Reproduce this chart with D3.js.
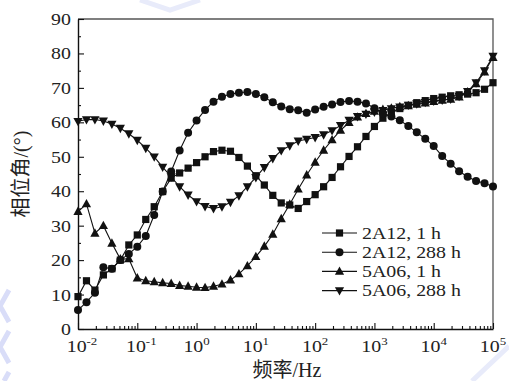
<!DOCTYPE html>
<html>
<head>
<meta charset="utf-8">
<script src="https://cdn.jsdelivr.net/npm/d3@7"></script>
<style>
  html, body { margin: 0; padding: 0; background: #fff; }
  svg { display: block; }
</style>
</head>
<body>
<svg id="chart" width="509" height="381"></svg>
<script>
// Measurement frequencies (Hz), 7 points per decade from 10^-2 to 10^5
const freq = [
  0.01, 0.0139, 0.0193, 0.0268, 0.0373, 0.0518, 0.0720,
  0.1, 0.139, 0.193, 0.268, 0.373, 0.518, 0.720,
  1, 1.39, 1.93, 2.68, 3.73, 5.18, 7.20,
  10, 13.9, 19.3, 26.8, 37.3, 51.8, 72.0,
  100, 139, 193, 268, 373, 518, 720,
  1000, 1390, 1930, 2680, 3730, 5180, 7200,
  10000, 13900, 19300, 26800, 37300, 51800, 72000,
  100000
];

// Phase angle (degrees) for each sample
const a2A12_1h = [
  9.4, 14.0, 11.3, 15.7, 17.5, 20.0, 24.4,
  27.3, 31.8, 35.5, 39.9, 43.8, 45.3, 46.7,
  48.3, 50.0, 51.5, 51.9, 51.6, 49.8, 47.3,
  44.5, 41.8, 38.8, 36.6, 36.0, 35.0, 37.0,
  39.0, 41.3, 44.0, 47.1, 50.1, 52.9, 55.9,
  58.8, 61.2, 62.8, 64.0, 64.9, 65.7, 66.3,
  66.9, 67.3, 67.7, 68.0, 68.2, 68.6, 69.6,
  71.5
];
const a2A12_288h = [
  5.5, 7.8, 10.5, 17.9, 17.5, 20.0, 21.8,
  23.9, 27.0, 33.1, 39.9, 45.7, 51.8, 57.0,
  60.5, 63.6, 66.0, 67.4, 68.2, 68.6, 68.8,
  68.2, 67.3, 65.8, 64.6, 63.8, 63.5, 62.8,
  63.7, 64.5, 65.2, 65.9, 66.2, 66.0, 65.5,
  64.1, 62.6, 61.7, 60.6, 58.9, 57.1, 55.2,
  53.1, 50.2, 48.0, 45.8, 44.2, 43.0, 42.3,
  41.4
];
const a5A06_1h = [
  34.1, 36.3, 27.8, 30.0, 24.9, 20.3, 20.4,
  14.8, 14.0, 13.7, 13.4, 13.2, 12.6, 12.4,
  12.1, 12.0, 12.4, 13.0, 14.2, 16.0, 18.3,
  21.0, 24.0, 27.5, 32.0, 36.2, 40.6, 44.7,
  48.4, 51.9, 54.9, 57.7, 59.9, 61.5, 62.5,
  63.2, 63.7, 64.1, 64.5, 64.8, 65.2, 65.6,
  66.0, 66.4, 66.7, 67.3, 68.8, 71.2, 74.6,
  78.8
];
const a5A06_288h = [
  60.3, 60.8, 60.8, 60.4, 59.5, 58.3, 56.7,
  54.8, 52.5, 50.0, 47.0, 44.2, 41.3, 38.9,
  37.0, 35.6, 35.0, 35.5, 36.8, 38.7, 41.3,
  44.0, 46.9, 49.5, 51.8, 53.2, 54.6, 55.1,
  55.6, 56.4, 57.6, 59.1, 60.6, 61.7, 62.4,
  63.0, 63.5, 64.0, 64.5, 65.0, 65.4, 65.8,
  66.2, 66.5, 66.8, 67.6, 69.0, 71.5, 75.0,
  79.2
];

const seriesNames = ["2A12, 1 h", "2A12, 288 h", "5A06, 1 h", "5A06, 288 h"];
const seriesValues = [a2A12_1h, a2A12_288h, a5A06_1h, a5A06_288h];
const seriesMarkers = ["square", "circle", "triangleUp", "triangleDown"];

const xDecades = [-2, -1, 0, 1, 2, 3, 4, 5];
const yTicks = [0, 10, 20, 30, 40, 50, 60, 70, 80, 90];
const yMinorTicks = [5, 15, 25, 35, 45, 55, 65, 75, 85];

const xTitle = "频率/Hz";
const yTitle = "相位角/(°)";

const serif = "'Liberation Serif', 'Times New Roman', 'Noto Sans CJK SC', serif";
const stretch = 1.17;

const svg = d3.select("#chart");

// faint background watermark strokes
const wm = svg.append("g").attr("fill", "none").attr("stroke", "#d9ddf8")
  .attr("stroke-width", 5).attr("stroke-linecap", "butt");
wm.append("polyline").attr("points", "9,290 0,306 9,322");
wm.append("polyline").attr("points", "9,331 0,347 9,363");
wm.append("polyline").attr("points", "9,372 4,381");
const wm2 = svg.append("g").attr("fill", "none").attr("stroke", "#e8ebfa")
  .attr("stroke-width", 5);
wm2.append("polyline").attr("points", "140,0 170,10 200,0");
wm2.append("polyline").attr("points", "472,381 509,346");

const plotL = 78, plotR = 493, plotT = 19, plotB = 329;
const x = d3.scaleLog().domain([1e-2, 1e5]).range([plotL, plotR]);
const y = d3.scaleLinear().domain([0, 90]).range([plotB, plotT]);

// frame
svg.append("path")
  .attr("d", `M${plotL},${plotT}H${plotR}V${plotB}`)
  .attr("fill", "none").attr("stroke", "#555").attr("stroke-width", 1.3);

// bottom axis: major and minor ticks pointing inward
const xMajor = xDecades.map(d => Math.pow(10, d));
const xMinor = [];
xDecades.slice(0, -1).forEach(d => {
  for (let m = 2; m <= 9; m++) xMinor.push(m * Math.pow(10, d));
});
const gx = svg.append("g").attr("transform", `translate(0,${plotB})`);
gx.call(d3.axisBottom(x).tickValues(xMajor).tickSizeInner(-6).tickSizeOuter(0).tickFormat(""));
gx.append("g").call(d3.axisBottom(x).tickValues(xMinor).tickSizeInner(-3).tickSizeOuter(0).tickFormat(""))
  .select(".domain").remove();
gx.selectAll("line").attr("stroke", "#111").attr("stroke-width", 1.1);
gx.select(".domain").attr("stroke", "#111").attr("stroke-width", 1.4);

// decade labels 10^n
xDecades.forEach(d => {
  const cx = x(Math.pow(10, d)) + (d < 0 ? 4 : 0);
  const t = svg.append("text")
    .attr("transform", `translate(${cx},352) scale(${stretch},1)`)
    .attr("text-anchor", "middle")
    .attr("font-family", serif).attr("font-size", 17).attr("fill", "#222");
  t.append("tspan").text("10");
  t.append("tspan").attr("font-size", 11).attr("dy", -7).text(d < 0 ? "-" + (-d) : String(d));
});

// left axis
const gy = svg.append("g").attr("transform", `translate(${plotL},0)`);
gy.call(d3.axisLeft(y).tickValues(yTicks).tickSizeInner(-6).tickSizeOuter(0).tickFormat(""));
gy.append("g").call(d3.axisLeft(y).tickValues(yMinorTicks).tickSizeInner(-3).tickSizeOuter(0).tickFormat(""))
  .select(".domain").remove();
gy.selectAll("line").attr("stroke", "#111").attr("stroke-width", 1.1);
gy.select(".domain").attr("stroke", "#111").attr("stroke-width", 1.4);

yTicks.forEach(v => {
  svg.append("text")
    .attr("transform", `translate(71,${y(v) + 6}) scale(${stretch},1)`)
    .attr("text-anchor", "end")
    .attr("font-family", serif).attr("font-size", 17).attr("fill", "#222")
    .text(v);
});

// axis titles
svg.append("text")
  .attr("transform", `translate(287,377)`)
  .attr("text-anchor", "middle")
  .attr("font-family", serif).attr("font-size", 20).attr("fill", "#222")
  .text(xTitle);
svg.append("text")
  .attr("transform", `translate(28,174) rotate(-90)`)
  .attr("text-anchor", "middle")
  .attr("font-family", serif).attr("font-size", 20).attr("fill", "#222")
  .text(yTitle);

// marker shapes
function marker(g, type, cx, cy) {
  if (type === "square") {
    g.append("rect").attr("x", cx - 3.6).attr("y", cy - 3.6).attr("width", 7.2).attr("height", 7.2);
  } else if (type === "circle") {
    g.append("circle").attr("cx", cx).attr("cy", cy).attr("r", 4);
  } else if (type === "triangleUp") {
    g.append("path").attr("d", `M${cx},${cy - 5}L${cx + 4.6},${cy + 3.4}L${cx - 4.6},${cy + 3.4}Z`);
  } else {
    g.append("path").attr("d", `M${cx},${cy + 5}L${cx + 4.6},${cy - 3.4}L${cx - 4.6},${cy - 3.4}Z`);
  }
}

const line = d3.line().x(d => x(d[0])).y(d => y(d[1]));
const plot = svg.append("g");
seriesValues.forEach((vals, k) => {
  const pts = freq.map((f, i) => [f, vals[i]]);
  plot.append("path").datum(pts).attr("d", line)
    .attr("fill", "none").attr("stroke", "#111").attr("stroke-width", 1.1);
});
seriesValues.forEach((vals, k) => {
  const g = plot.append("g").attr("fill", "#111");
  freq.forEach((f, i) => marker(g, seriesMarkers[k], x(f), y(vals[i])));
});

// legend
const legend = svg.append("g");
seriesNames.forEach((name, k) => {
  const cy = 233 + k * 19.2;
  legend.append("line").attr("x1", 322).attr("x2", 357).attr("y1", cy).attr("y2", cy)
    .attr("stroke", "#111").attr("stroke-width", 1.1);
  const g = legend.append("g").attr("fill", "#111");
  marker(g, seriesMarkers[k], 339.5, cy);
  legend.append("text")
    .attr("transform", `translate(362,${cy + 5.8}) scale(${stretch},1)`)
    .attr("font-family", serif).attr("font-size", 17).attr("fill", "#222")
    .text(name);
});
</script>
</body>
</html>
